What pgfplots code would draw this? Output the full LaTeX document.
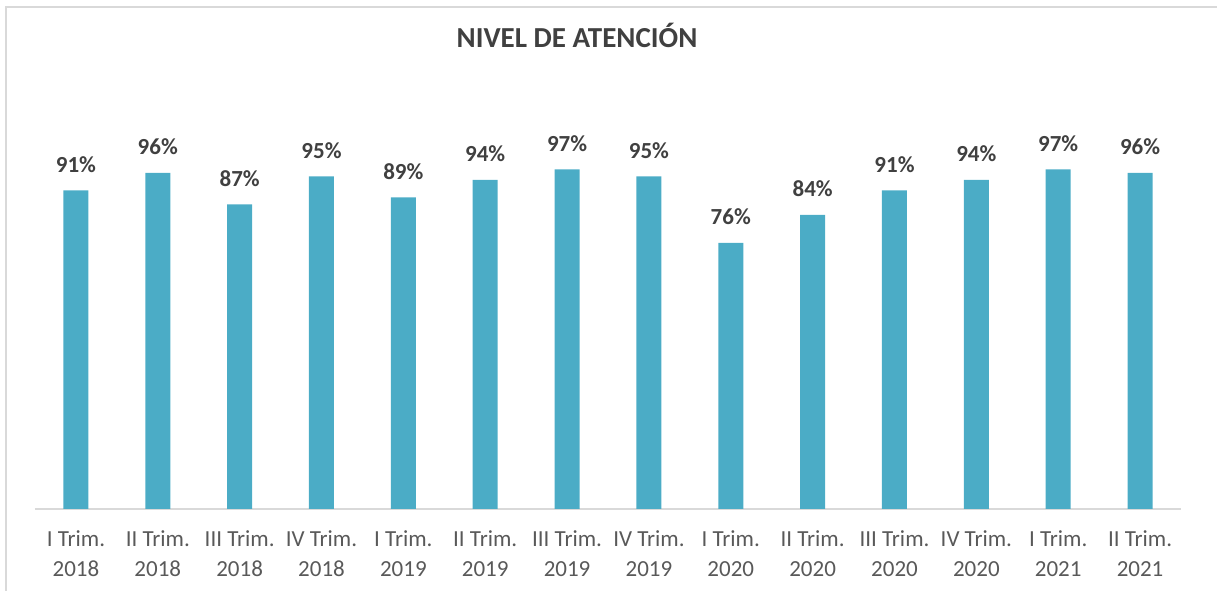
\documentclass[border=0pt]{standalone}
\usepackage{pgfplots}
\pgfplotsset{compat=1.18}
\usepackage{fontspec}
\setmainfont{Carlito}
\definecolor{barblue}{HTML}{4BACC6}
\definecolor{labelgray}{HTML}{404040}
\definecolor{tickgray}{HTML}{595959}
\definecolor{framegray}{HTML}{D9D9D9}
\begin{document}
\begin{tikzpicture}
\useasboundingbox (0,0) rectangle (1217pt,591pt);
% chart frame (top and left edges)
\draw[framegray, line width=1.5pt] (6pt,0pt) -- (6pt,584pt) -- (1217pt,584pt);
% title
\node[anchor=base, font=\fontsize{29}{34}\selectfont\bfseries, text=labelgray]
  at (577pt,543pt) {NIVEL DE ATENCIÓN};
\begin{axis}[
  at={(35pt,82pt)}, anchor=south west,
  scale only axis,
  width=1146pt, height=350pt,
  xmin=-0.5, xmax=13.5,
  ymin=0, ymax=100,
  clip=false,
  axis x line*=bottom,
  axis y line=none,
  x axis line style={framegray, line width=1.5pt},
  xtick=data,
  major tick length=0pt,
  xticklabels={{I Trim.\\2018},{II Trim.\\2018},{III Trim.\\2018},{IV Trim.\\2018},
               {I Trim.\\2019},{II Trim.\\2019},{III Trim.\\2019},{IV Trim.\\2019},
               {I Trim.\\2020},{II Trim.\\2020},{III Trim.\\2020},{IV Trim.\\2020},
               {I Trim.\\2021},{II Trim.\\2021}},
  xticklabel style={align=center, text=tickgray,
    font=\fontsize{23}{30}\selectfont, yshift=-18pt},
  /pgf/number format/assume math mode=true,
  ybar, bar width=25pt,
  nodes near coords={\pgfmathprintnumber{\pgfplotspointmeta}\%},
  every node near coord/.append style={anchor=base, yshift=18pt,
    font=\fontsize{23}{28}\selectfont\bfseries, text=labelgray},
]
\addplot[fill=barblue, draw=none] coordinates {
  (0,91) (1,96) (2,87) (3,95) (4,89) (5,94) (6,97)
  (7,95) (8,76) (9,84) (10,91) (11,94) (12,97) (13,96)
};
\end{axis}
\end{tikzpicture}
\end{document}
